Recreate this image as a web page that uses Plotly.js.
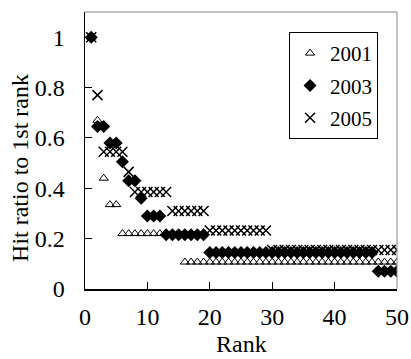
<!DOCTYPE html>
<html>
<head>
<meta charset="utf-8">
<script src="https://cdn.plot.ly/plotly-3.0.1.min.js"></script>
<style>html,body{margin:0;padding:0;background:#fff;}#chart{width:411px;height:359px;}</style>
</head>
<body>
<div id="chart"></div>
<script>
// Rank 1..50
const ranks = Array.from({length: 50}, (_, i) => i + 1);

const hit2001 = [
  1.00, 0.67, 0.44, 0.335, 0.335, 0.22, 0.22, 0.22, 0.22, 0.22,
  0.22, 0.22, 0.22, 0.22, 0.22, 0.107, 0.107, 0.107, 0.107, 0.107,
  0.107, 0.107, 0.107, 0.107, 0.107, 0.107, 0.107, 0.107, 0.107, 0.107,
  0.107, 0.107, 0.107, 0.107, 0.107, 0.107, 0.107, 0.107, 0.107, 0.107,
  0.107, 0.107, 0.107, 0.107, 0.107, 0.107, 0.107, 0.107, 0.107, 0.107
];

const hit2003 = [
  1.00, 0.645, 0.645, 0.58, 0.58, 0.505, 0.43, 0.43, 0.36, 0.29,
  0.29, 0.29, 0.215, 0.215, 0.215, 0.215, 0.215, 0.215, 0.215, 0.145,
  0.145, 0.145, 0.145, 0.145, 0.145, 0.145, 0.145, 0.145, 0.145, 0.145,
  0.145, 0.145, 0.145, 0.145, 0.145, 0.145, 0.145, 0.145, 0.145, 0.145,
  0.145, 0.145, 0.145, 0.145, 0.145, 0.145, 0.07, 0.07, 0.07, 0.07
];

const hit2005 = [
  1.00, 0.77, 0.545, 0.545, 0.545, 0.545, 0.465, 0.385, 0.385, 0.385,
  0.385, 0.385, 0.385, 0.31, 0.31, 0.31, 0.31, 0.31, 0.31, 0.232,
  0.232, 0.232, 0.232, 0.232, 0.232, 0.232, 0.232, 0.232, 0.232, 0.155,
  0.155, 0.155, 0.155, 0.155, 0.155, 0.155, 0.155, 0.155, 0.155, 0.155,
  0.155, 0.155, 0.155, 0.155, 0.155, 0.155, 0.155, 0.155, 0.155, 0.155
];

const seriesNames = ["2001", "2003", "2005"];
const xTicks = [0, 10, 20, 30, 40, 50];
const yTicks = [0, 0.2, 0.4, 0.6, 0.8, 1];
const xTitle = "Rank";
const yTitle = "Hit ratio to 1st rank";

const font = "Liberation Serif";

const traces = [
  {x: ranks, y: hit2001, name: seriesNames[0], legendgroup: "a", type: "scatter", mode: "markers",
   marker: {symbol: "triangle-up-open", size: 8, color: "#000", line: {width: 1, color: "#000"}}},
  {x: ranks, y: hit2003, name: seriesNames[1], legendgroup: "b", type: "scatter", mode: "markers",
   marker: {symbol: "diamond", size: 10, color: "#000"}},
  {x: ranks, y: hit2005, name: seriesNames[2], legendgroup: "c", type: "scatter", mode: "markers",
   marker: {symbol: "x-thin-open", size: 10, color: "#000", line: {width: 1.5, color: "#000"}}}
];

const layout = {
  width: 411, height: 359,
  margin: {l: 85, r: 14, t: 12, b: 70, pad: 0},
  paper_bgcolor: "#fff", plot_bgcolor: "#fff",
  font: {family: font, size: 22, color: "#000"},
  showlegend: true,
  legend: {
    x: 0.654, y: 0.928, xanchor: "left", yanchor: "top",
    bgcolor: "#fff", bordercolor: "#000", borderwidth: 1,
    font: {family: font, size: 21, color: "#000"},
    tracegroupgap: 2, itemwidth: 30
  },
  xaxis: {
    range: [0, 50], tickvals: xTicks, ticks: "inside", ticklen: 7, tickcolor: "#000",
    showgrid: false, zeroline: false, showline: true, linecolor: "#000", linewidth: 1.5,
    ticklabelstandoff: 6,
    tickfont: {family: font, size: 24, color: "#000"}
  },
  yaxis: {
    range: [0, 1.1], tickvals: yTicks, ticks: "inside", ticklen: 7, tickcolor: "#000",
    showgrid: false, zeroline: false, showline: true, linecolor: "#000", linewidth: 1.5,
    ticklabelstandoff: 14,
    tickfont: {family: font, size: 24, color: "#000"}
  },
  annotations: [
    {text: yTitle, xref: "paper", yref: "paper", x: 0, y: 0.437, xanchor: "center", yanchor: "middle",
     xshift: -65, textangle: -90, showarrow: false, font: {family: font, size: 24, color: "#000"}},
    {text: xTitle, xref: "paper", yref: "paper", x: 0.5, y: 0, xanchor: "center", yanchor: "middle",
     yshift: -55, showarrow: false, font: {family: font, size: 24, color: "#000"}}
  ],
  shapes: [
    {type: "line", xref: "paper", yref: "paper", x0: 0, x1: 1, y0: 1, y1: 1, line: {color: "#888", width: 1}},
    {type: "line", xref: "paper", yref: "paper", x0: 1, x1: 1, y0: 0, y1: 1, line: {color: "#888", width: 1}}
  ]
};

Plotly.newPlot("chart", traces, layout, {displayModeBar: false, staticPlot: true});
</script>
</body>
</html>
